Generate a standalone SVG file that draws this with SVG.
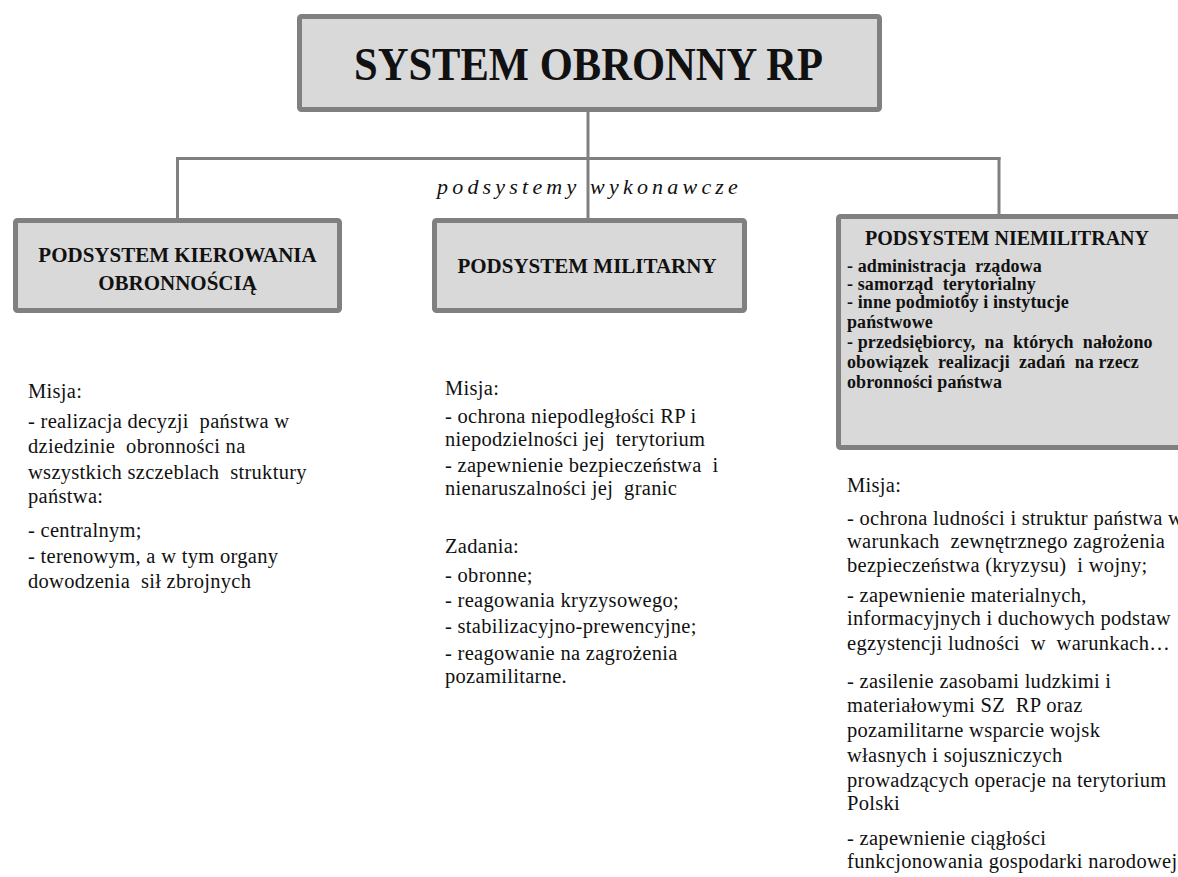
<svg xmlns="http://www.w3.org/2000/svg" width="1178" height="877" viewBox="0 0 1178 877">
<style>
.box{fill:#d9d9d9;stroke:#808080;stroke-width:5}
.ln{stroke:#808080;stroke-width:3;fill:none}
text{white-space:pre;fill:#111}
.title{font-family:"Liberation Serif",serif;font-weight:bold;font-size:46px}
.hd{font-family:"Liberation Serif",serif;font-weight:bold;font-size:21px;text-anchor:middle}
.bb{font-family:"Liberation Serif",serif;font-weight:bold;font-size:18px;letter-spacing:0.1px}
.bd{font-family:"Liberation Serif",serif;font-size:20.5px;letter-spacing:0.3px}
.it{font-family:"Liberation Serif",serif;font-style:italic;font-size:22px;letter-spacing:4.2px}
</style>
<rect width="1178" height="877" fill="#ffffff"/>
<g id="connectors">
<line class="ln" x1="588" y1="112" x2="588" y2="218"/>
<line class="ln" x1="176" y1="158.5" x2="1000.5" y2="158.5"/>
<line class="ln" x1="177.5" y1="157" x2="177.5" y2="218"/>
<line class="ln" x1="999" y1="157" x2="999" y2="214"/>
</g>
<text class="it" x="437" y="194">podsystemy wykonawcze</text>
<g id="system">
<rect class="box" x="299.5" y="16.5" width="580" height="93" rx="2"/>
<text class="title" x="354" y="80" textLength="469" lengthAdjust="spacingAndGlyphs">SYSTEM OBRONNY RP</text>
</g>
<g id="kierowanie">
<rect class="box" x="15.5" y="220.5" width="324" height="90" rx="2"/>
<text class="hd" x="177.5" y="262">PODSYSTEM KIEROWANIA</text>
<text class="hd" x="177.5" y="290">OBRONNOŚCIĄ</text>
</g>
<g id="militarny">
<rect class="box" x="434.5" y="220.5" width="310" height="90" rx="2"/>
<text class="hd" x="587" y="273">PODSYSTEM MILITARNY</text>
</g>
<g id="niemilitarny">
<rect class="box" x="838.5" y="216.5" width="345" height="231" rx="2"/>
<text class="hd" x="1007" y="245" style="font-size:20px">PODSYSTEM NIEMILITRANY</text>
<text class="bb" x="847" y="272">- administracja  rządowa</text>
<text class="bb" x="847" y="290">- samorząd  terytorialny</text>
<text class="bb" x="847" y="308">- inne podmiotбy i instytucje</text>
<text class="bb" x="847" y="328">państwowe</text>
<text class="bb" x="847" y="348">- przedsiębiorcy,  na  których  nałożono</text>
<text class="bb" x="847" y="368">obowiązek  realizacji  zadań  na rzecz</text>
<text class="bb" x="847" y="388">obronności państwa</text>
</g>
<g id="misja-kierowanie">
<text class="bd" x="28" y="398">Misja:</text>
<text class="bd" x="28" y="428">- realizacja decyzji  państwa w</text>
<text class="bd" x="28" y="453">dziedzinie  obronności na</text>
<text class="bd" x="28" y="479">wszystkich szczeblach  struktury</text>
<text class="bd" x="28" y="503">państwa:</text>
<text class="bd" x="28" y="537">- centralnym;</text>
<text class="bd" x="28" y="563">- terenowym, a w tym organy</text>
<text class="bd" x="28" y="588">dowodzenia  sił zbrojnych</text>
</g>
<g id="misja-militarny">
<text class="bd" x="445" y="395">Misja:</text>
<text class="bd" x="445" y="423">- ochrona niepodległości RP i</text>
<text class="bd" x="445" y="446">niepodzielności jej  terytorium</text>
<text class="bd" x="445" y="472">- zapewnienie bezpieczeństwa  i</text>
<text class="bd" x="445" y="495">nienaruszalności jej  granic</text>
<text class="bd" x="445" y="553">Zadania:</text>
<text class="bd" x="445" y="582">- obronne;</text>
<text class="bd" x="445" y="607">- reagowania kryzysowego;</text>
<text class="bd" x="445" y="633">- stabilizacyjno-prewencyjne;</text>
<text class="bd" x="445" y="660">- reagowanie na zagrożenia</text>
<text class="bd" x="445" y="683">pozamilitarne.</text>
</g>
<g id="misja-niemilitarny">
<text class="bd" x="847" y="492">Misja:</text>
<text class="bd" x="847" y="525">- ochrona ludności i struktur państwa w</text>
<text class="bd" x="847" y="548">warunkach  zewnętrznego zagrożenia</text>
<text class="bd" x="847" y="572">bezpieczeństwa (kryzysu)  i wojny;</text>
<text class="bd" x="847" y="602">- zapewnienie materialnych,</text>
<text class="bd" x="847" y="625">informacyjnych i duchowych podstaw</text>
<text class="bd" x="847" y="650">egzystencji ludności  w  warunkach…</text>
<text class="bd" x="847" y="688">- zasilenie zasobami ludzkimi i</text>
<text class="bd" x="847" y="712">materiałowymi SZ  RP oraz</text>
<text class="bd" x="847" y="737">pozamilitarne wsparcie wojsk</text>
<text class="bd" x="847" y="762">własnych i sojuszniczych</text>
<text class="bd" x="847" y="787">prowadzących operacje na terytorium</text>
<text class="bd" x="847" y="810">Polski</text>
<text class="bd" x="847" y="845">- zapewnienie ciągłości</text>
<text class="bd" x="847" y="868">funkcjonowania gospodarki narodowej</text>
</g>
</svg>
